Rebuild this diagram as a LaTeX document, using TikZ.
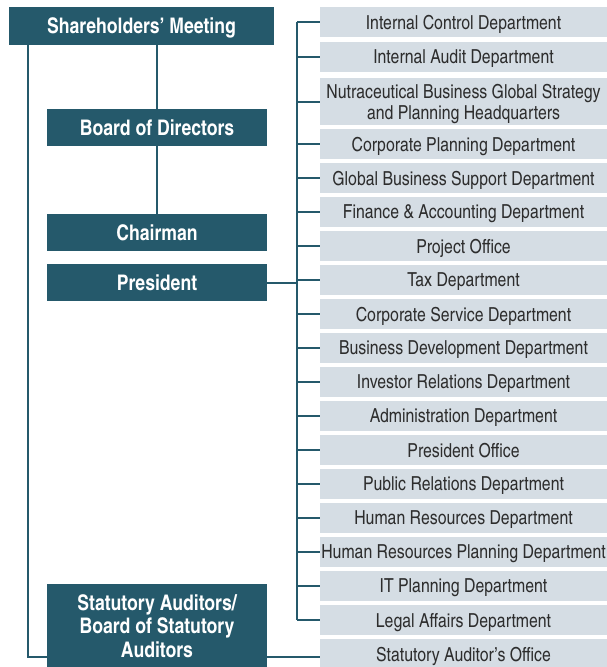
\documentclass[tikz,border=0pt]{standalone}
\usepackage{fontspec}
\setmainfont{texgyreheroscn-regular.otf}[BoldFont=texgyreheroscn-bold.otf]
\usetikzlibrary{backgrounds}
\definecolor{teal}{RGB}{37,89,107}
\definecolor{lightbox}{RGB}{213,221,228}
\definecolor{txt}{RGB}{45,45,45}
\begin{document}
\begin{tikzpicture}[x=1pt,y=-1pt,
  head/.style={fill=teal,text=white,font=\bfseries\fontsize{21.5}{23.5}\selectfont,inner sep=0pt,text depth=0pt,minimum width=220pt,minimum height=37pt,align=center},
  dept/.style={fill=lightbox,text=txt,font=\fontsize{19.3}{21}\selectfont,inner sep=0pt,text depth=0pt,minimum width=287pt,minimum height=30pt,align=center},
  link/.style={draw=teal,line width=2pt}]
\useasboundingbox (0,0) rectangle (607,667);
\node[head,minimum width=265pt,minimum height=38pt] (sh) at (141.5,26) {Shareholders’ Meeting};
\node[head] (bod) at (157,127.5) {Board of Directors};
\node[head] (chair) at (157,232.5) {Chairman};
\node[head] (pres) at (157,282.5) {President};
\node[head,minimum height=85pt] (stat) at (157,626) {Statutory Auditors/\\Board of Statutory\\Auditors};
\node[dept] (d1) at (463.5,22) {Internal Control Department};
\node[dept] (d2) at (463.5,57) {Internal Audit Department};
\node[dept,minimum height=47pt] (d3) at (463.5,101.5) {Nutraceutical Business Global Strategy\\and Planning Headquarters};
\node[dept] (d4) at (463.5,144) {Corporate Planning Department};
\node[dept] (d5) at (463.5,178) {Global Business Support Department};
\node[dept] (d6) at (463.5,212) {Finance \& Accounting Department};
\node[dept] (d7) at (463.5,246) {Project Office};
\node[dept] (d8) at (463.5,280) {Tax Department};
\node[dept] (d9) at (463.5,314) {Corporate Service Department};
\node[dept] (d10) at (463.5,348) {Business Development Department};
\node[dept] (d11) at (463.5,382) {Investor Relations Department};
\node[dept] (d12) at (463.5,416) {Administration Department};
\node[dept] (d13) at (463.5,450) {President Office};
\node[dept] (d14) at (463.5,484) {Public Relations Department};
\node[dept] (d15) at (463.5,518) {Human Resources Department};
\node[dept] (d16) at (463.5,552) {Human Resources Planning Department};
\node[dept] (d17) at (463.5,586) {IT Planning Department};
\node[dept] (d18) at (463.5,620) {Legal Affairs Department};
\node[dept] (sa) at (463.5,654) {Statutory Auditor’s Office};
\coordinate (bx) at (297,0);
\coordinate (lb) at (28,657);
\begin{pgfonlayer}{background}
\draw[link] (bod.north) -- (bod.north |- sh.south);
\draw[link] (bod.south) -- (chair.north);
\draw[link] (d1.west -| bx) -- (d18.west -| bx);
\foreach \i in {1,...,18} {\draw[link] (d\i.west) -- (d\i.west -| bx);}
\draw[link] (pres.east) -- (pres.east -| bx);
\draw[link] (sh.south -| lb) -- (lb) -- (lb -| sa.west);
\end{pgfonlayer}
\end{tikzpicture}
\end{document}
